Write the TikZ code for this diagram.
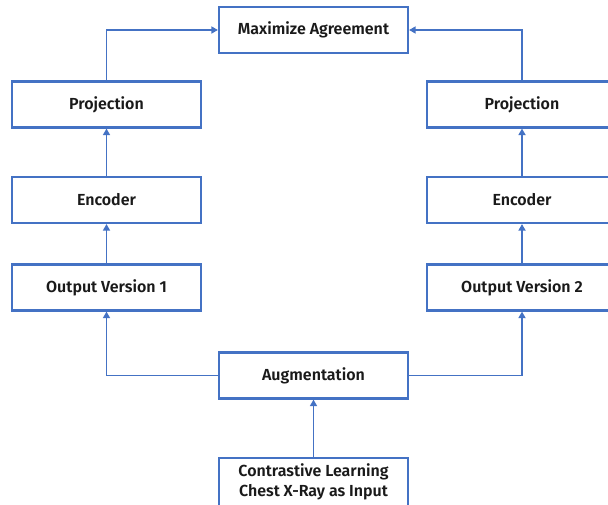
\documentclass[tikz,border=0pt]{standalone}
\usepackage{fontspec}
\setmainfont{Fira Sans}[UprightFont=* Medium, BoldFont=* SemiBold]
\usetikzlibrary{arrows.meta}
\definecolor{lineblue}{HTML}{4472C4}
\definecolor{txt}{HTML}{1A1A1A}
\begin{document}
\begin{tikzpicture}[x=1pt,y=1pt,
  box/.style={draw=lineblue, line width=2.2pt, fill=white, minimum width=189pt, minimum height=46pt,
     inner sep=0pt, align=center, text=txt, font=\fontsize{16}{19.5}\selectfont\bfseries},
  conn/.style={draw=lineblue, line width=1.6pt, -{Triangle[width=7pt,length=6.5pt]}}]
\useasboundingbox (0,0) rectangle (608,-504);
\clip (0,0) rectangle (608,-504);
\fill[white] (0,0) rectangle (608,-504);
% nodes
\node[box] (max) at (313.5,-30) {Maximize Agreement};
\node[box] (p1) at (106.5,-104.5) {Projection};
\node[box] (e1) at (106.5,-200) {Encoder};
\node[box] (o1) at (106.5,-287.5) {Output Version 1};
\node[box, minimum width=190pt] (p2) at (522,-104.5) {Projection};
\node[box, minimum width=190pt] (e2) at (522,-200) {Encoder};
\node[box, minimum width=190pt] (o2) at (522,-287.5) {Output Version 2};
\node[box] (aug) at (313.5,-375.5) {Augmentation};
\node[box, minimum height=48pt] (in) at (313.5,-482) {Contrastive Learning\\Chest X-Ray as Input};
% connectors
\draw[conn] (in.north) -- (aug.south);
\draw[conn] (aug.west) -| (o1.south);
\draw[conn] (aug.east) -| (o2.south);
\draw[conn] (o1.north) -- (e1.south);
\draw[conn] (e1.north) -- (p1.south);
\draw[conn] (o2.north) -- (e2.south);
\draw[conn] (e2.north) -- (p2.south);
\draw[conn] (p1.north) |- (max.west);
\draw[conn] (p2.north) |- (max.east);
\end{tikzpicture}
\end{document}
